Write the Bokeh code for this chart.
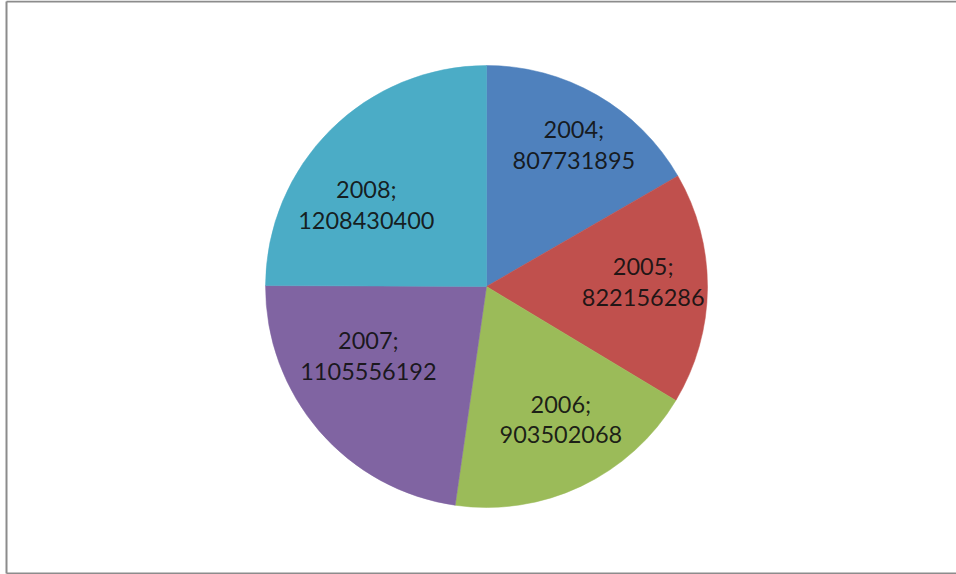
import math
from bokeh.plotting import figure
from bokeh.models import Range1d, ColumnDataSource
from bokeh.core.properties import value
from bokeh.embed import file_html
from bokeh.resources import INLINE

# Annual totals shown as pie slices
years = ["2004", "2005", "2006", "2007", "2008"]
totals = [807731895, 822156286, 903502068, 1105556192, 1208430400]
colors = ["#4F81BD", "#C0504D", "#9BBB59", "#8064A2", "#4BACC6"]

# label nudges (pixels) away from the plain radial position
label_dx = [10, 2, 8, -1, -11]
label_dy = [-8, -6, -7, -32, 28]

W, H = 956, 574
CX, CY, R = 486, 286, 221          # pie centre / radius in page pixels
LINE_GAP = 31

p = figure(width=W, height=H, output_backend="svg", toolbar_location=None,
           x_range=Range1d(0, W), y_range=Range1d(0, H),
           min_border=0, min_border_left=0, min_border_right=0,
           min_border_top=0, min_border_bottom=0)
p.axis.visible = False
p.grid.visible = False
p.outline_line_color = None
p.background_fill_color = "white"
p.border_fill_color = "white"

# chart-area frame: left, top and bottom edges (right edge runs off the page)
p.segment(x0=[6, 6, 6], y0=[H - 573, H - 1, H - 573],
          x1=[6, W, W], y1=[H - 1, H - 1, H - 573],
          line_color="#8c8c8c", line_width=2)

total = sum(totals)
cum = 0.0
starts, ends, mids = [], [], []
for v in totals:
    f = v / total
    starts.append(math.pi / 2 - 2 * math.pi * cum)
    ends.append(math.pi / 2 - 2 * math.pi * (cum + f))
    mids.append(2 * math.pi * (cum + f / 2))   # clockwise from 12 o'clock
    cum += f

src = ColumnDataSource(dict(start=starts, end=ends, color=colors))
p.wedge(x=CX, y=H - CY, radius=R, start_angle="start", end_angle="end",
        direction="clock", fill_color="color", line_color="color",
        line_width=0.5, source=src)

lx1, ly1, lx2, ly2, t1, t2 = [], [], [], [], [], []
for i, (yr, v) in enumerate(zip(years, totals)):
    d = 0.7 * R
    px = CX + d * math.sin(mids[i]) + label_dx[i]
    py = CY - d * math.cos(mids[i]) + label_dy[i]
    lx1.append(px); ly1.append(H - (py - LINE_GAP / 2)); t1.append(f"{yr};")
    lx2.append(px); ly2.append(H - (py + LINE_GAP / 2)); t2.append(str(v))

for xs, ys, ts in ((lx1, ly1, t1), (lx2, ly2, t2)):
    p.text(x=xs, y=ys, text=ts, text_font=value("Lato"),
           text_font_size="23.5px", text_align="center",
           text_baseline="middle", text_color="#111111", text_alpha=0.92)

open("out.html", "w").write(file_html(p, INLINE))
